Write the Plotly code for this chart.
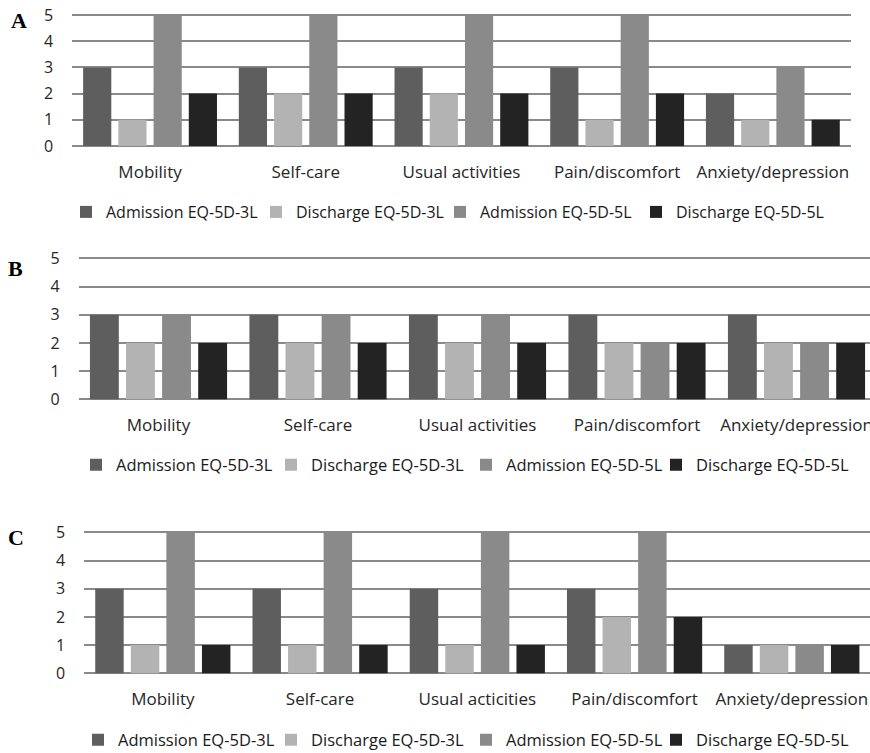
import plotly.graph_objects as go

W, H = 870, 753

categories_AB = ["Mobility", "Self-care", "Usual activities", "Pain/discomfort", "Anxiety/depression"]
categories_C = ["Mobility", "Self-care", "Usual acticities", "Pain/discomfort", "Anxiety/depression"]
series_names = ["Admission EQ-5D-3L", "Discharge EQ-5D-3L", "Admission EQ-5D-5L", "Discharge EQ-5D-5L"]

A_adm_3L = [3, 3, 3, 3, 2]
A_dis_3L = [1, 2, 2, 1, 1]
A_adm_5L = [5, 5, 5, 5, 3]
A_dis_5L = [2, 2, 2, 2, 1]

B_adm_3L = [3, 3, 3, 3, 3]
B_dis_3L = [2, 2, 2, 2, 2]
B_adm_5L = [3, 3, 3, 2, 2]
B_dis_5L = [2, 2, 2, 2, 2]

C_adm_3L = [3, 3, 3, 3, 1]
C_dis_3L = [1, 1, 1, 2, 1]
C_adm_5L = [5, 5, 5, 5, 1]
C_dis_5L = [1, 1, 1, 2, 1]

y_ticks = [0, 1, 2, 3, 4, 5]
panel_labels = ["A", "B", "C"]

colors = ["#5e5e5e", "#b3b3b3", "#8a8a8a", "#232323"]
FONT = "Open Sans"


def px_x(x):
    return x / W


def px_y(y):
    return 1 - y / H


panels = [
    dict(cats=categories_AB, vals=[A_adm_3L, A_dis_3L, A_adm_5L, A_dis_5L],
         x0=72.2, catw=155.7, xend=850.7, y0=146.0, y5=15.0,
         letter=(19, 21), leg_x=80, leg_y=212, leg_font=16,
         leg_pitch=[190, 184, 196, 240]),
    dict(cats=categories_AB, vals=[B_adm_3L, B_dis_3L, B_adm_5L, B_dis_5L],
         x0=78.75, catw=159.5, xend=870.0, y0=399.3, y5=258.3,
         letter=(15, 268), leg_x=90, leg_y=465, leg_font=16.5,
         leg_pitch=[195, 195, 190, 240]),
    dict(cats=categories_C, vals=[C_adm_3L, C_dis_3L, C_adm_5L, C_dis_5L],
         x0=84.2, catw=157.25, xend=870.0, y0=673.3, y5=532.3,
         letter=(16, 537), leg_x=92, leg_y=740, leg_font=16.5,
         leg_pitch=[193, 195, 190, 240]),
]

fig = go.Figure()
layout = dict(
    width=W, height=H,
    margin=dict(l=0, r=0, t=0, b=0, pad=0, autoexpand=False),
    paper_bgcolor="white", plot_bgcolor="white",
    barmode="group", bargap=0.095, bargroupgap=0.2,
    font=dict(family=FONT, size=16, color="#262626"),
    annotations=[],
)

pad = 0.04
for i, p in enumerate(panels):
    sfx = "" if i == 0 else str(i + 1)
    xa, ya = "x" + sfx, "y" + sfx
    leg = "legend" + sfx
    for j, name in enumerate(series_names):
        fig.add_trace(go.Bar(
            x=p["cats"], y=p["vals"][j], name=name,
            marker=dict(color=colors[j], line=dict(width=0)),
            xaxis=xa, yaxis=ya, legend=leg, hoverinfo="skip",
            legendwidth=p["leg_pitch"][j] - 45,
        ))
    unit = (p["y0"] - p["y5"]) / 5.0
    bottom = p["y0"] + pad * unit
    top = p["y5"] - pad * unit
    xmax = -0.5 + (p["xend"] - p["x0"]) / p["catw"]
    layout["xaxis" + sfx] = dict(
        domain=[px_x(p["x0"]), min(1.0, px_x(p["xend"]))],
        anchor=ya, range=[-0.5, xmax], type="category",
        showgrid=False, showline=False, zeroline=False, ticks="",
        automargin=False, ticklabelstandoff=13,
        tickfont=dict(family=FONT, size=17, color="#262626"),
    )
    layout["yaxis" + sfx] = dict(
        domain=[px_y(bottom), px_y(top)], anchor=xa,
        range=[-pad, 5 + pad], tickvals=y_ticks,
        showgrid=True, gridcolor="#8a8a8a", gridwidth=1.6,
        zeroline=False, showline=False, ticks="",
        automargin=False, ticklabelstandoff=18,
        tickfont=dict(family=FONT, size=16, color="#262626"),
    )
    layout[leg] = dict(
        orientation="h", x=px_x(p["leg_x"] - 14), y=px_y(p["leg_y"]),
        xanchor="left", yanchor="middle",
        font=dict(family=FONT, size=p["leg_font"], color="#1a1a1a"),
        itemwidth=30, tracegroupgap=0, bgcolor="rgba(0,0,0,0)",
        itemclick=False, itemdoubleclick=False,
    )
    layout["annotations"].append(dict(
        text="<b>%s</b>" % panel_labels[i], xref="paper", yref="paper",
        x=px_x(p["letter"][0]), y=px_y(p["letter"][1]),
        xanchor="center", yanchor="middle", showarrow=False,
        font=dict(family="Liberation Serif", size=22, color="#000000"),
    ))

fig.update_layout(**layout)
fig.write_html(
    "out.html",
    config={"displayModeBar": False},
    post_script="document.body.style.margin='0';document.body.style.overflow='hidden';",
)
